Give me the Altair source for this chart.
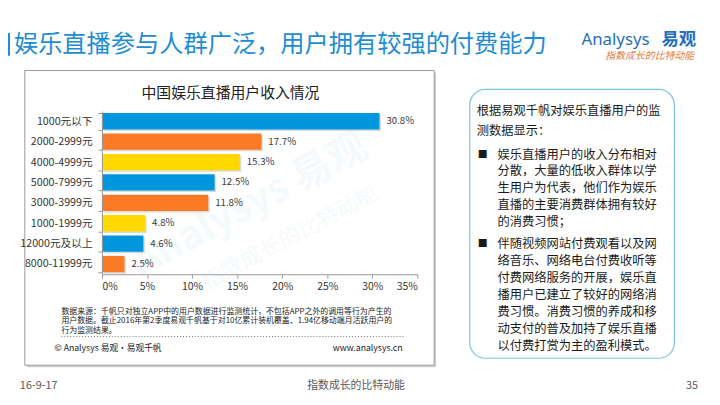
import altair as alt
import pandas as pd

# ---------------- data ----------------
categories = ["1000元以下", "2000-2999元", "4000-4999元", "5000-7999元",
              "3000-3999元", "1000-1999元", "12000元及以上", "8000-11999元"]
values = [30.8, 17.7, 15.3, 12.5, 11.8, 4.8, 4.6, 2.5]
groups = ["蓝", "橙", "黄", "蓝", "橙", "黄", "蓝", "橙"]
x_ticks = [0, 5, 10, 15, 20, 25, 30, 35]

title_text = "娱乐直播参与人群广泛，用户拥有较强的付费能力"
chart_title = "中国娱乐直播用户收入情况"
source_lines = [
    "数据来源：千帆只对独立APP中的用户数据进行监测统计，不包括APP之外的调用等行为产生的",
    "用户数据。截止2016年第2季度易观千帆基于对10亿累计装机覆盖、1.94亿移动端月活跃用户的",
    "行为监测结果。",
]
intro_lines = ["根据易观千帆对娱乐直播用户的监", "测数据显示："]
bullet1 = ["娱乐直播用户的收入分布相对", "分散，大量的低收入群体以学", "生用户为代表，他们作为娱乐",
           "直播的主要消费群体拥有较好", "的消费习惯；"]
bullet2 = ["伴随视频网站付费观看以及网", "络音乐、网络电台付费收听等", "付费网络服务的开展，娱乐直",
           "播用户已建立了较好的网络消", "费习惯。消费习惯的养成和移", "动支付的普及加持了娱乐直播",
           "以付费打赏为主的盈利模式。"]

df = pd.DataFrame({"cat": categories, "val": values, "grp": groups})
df["label"] = [f"{v:.1f}%" for v in values]

FONT = "Noto Sans CJK SC"
W, H = 319, 165


def one():
    return alt.Data(values=[{"t": ""}])


def txt(s, x, y, size, color="#222222", align="left", baseline="middle",
        weight="normal", angle=0, opacity=1.0, style="normal", font=FONT):
    return alt.Chart(alt.Data(values=[{"t": s}])).mark_text(
        align=align, baseline=baseline, fontSize=size, color=color, font=font,
        fontWeight=weight, angle=angle, opacity=opacity, fontStyle=style
    ).encode(x=alt.value(x), y=alt.value(y), text="t:N")


def box(x, x2, y, y2, **kw):
    return alt.Chart(one()).mark_rect(**kw).encode(
        x=alt.value(x), x2=alt.value(x2), y=alt.value(y), y2=alt.value(y2))


layers = []

# chart frame with shadow
layers.append(box(-76, 338, -39, 259, fill="#cfcfcf"))
layers.append(box(-78, 336, -41, 257, fill="white", stroke="#9a9a9a", strokeWidth=1))

# watermark
layers.append(txt("Analysys 易观", 150, 95, 40, color="#1E8CD3", align="center",
                  weight="bold", angle=332, opacity=0.045))
layers.append(txt("指数成长的比特动能", 190, 128, 22, color="#1E8CD3", align="center",
                  angle=332, opacity=0.045))

# bars
y_enc = alt.Y("cat:N", sort=categories, title=None,
              scale=alt.Scale(paddingInner=0.2, paddingOuter=0.1),
              axis=alt.Axis(labelFont=FONT, labelFontSize=10.8, labelColor="#333333",
                            domainColor="#9a9a9a", tickColor="#9a9a9a", tickSize=4,
                            tickBand="extent", labelPadding=6, zindex=2))
x_enc = alt.X("val:Q", title=None, scale=alt.Scale(domain=[0, 35], nice=False),
              axis=alt.Axis(values=x_ticks, labelExpr="datum.value + '%'",
                            labelFont=FONT, labelFontSize=10.5, labelColor="#333333",
                            domainColor="#9a9a9a", tickColor="#9a9a9a", tickSize=4,
                            grid=False, labelPadding=3, zindex=2))

base = alt.Chart(df)
shadow = base.mark_bar(color="#bdbdbd", opacity=0.55, xOffset=1.5, yOffset=1.5).encode(
    y=y_enc, x=x_enc)
bars = base.mark_bar().encode(
    y=y_enc, x=x_enc,
    color=alt.Color("grp:N", legend=None,
                    scale=alt.Scale(domain=["蓝", "橙", "黄"],
                                    range=["#0096DE", "#FA7A25", "#FFD800"])))
labels = base.mark_text(align="left", baseline="middle", dx=7, fontSize=9.8,
                        color="#3a3a3a", font=FONT).encode(y=y_enc, x=x_enc, text="label:N")
layers += [shadow, bars, labels]

# slide title
layers.append(box(-96, -93, -79, -56, fill="#1E8CD3"))
layers.append(txt(title_text, -89, -67, 24.5, color="#1E8CD3"))

# logo
layers.append(txt("Analysys", 485, -72, 17, color="#1F6FC0", font="Noto Sans"))
layers.append(txt("易观", 566, -72, 17.5, color="#1F6FC0", weight="bold"))
layers.append(txt("指数成长的比特动能", 554, -56, 10, color="#E07B39", align="center",
                  style="italic"))

# chart title
layers.append(txt(chart_title, 130, -18, 15, color="#222222", align="center"))

# source
for i, s in enumerate(source_lines):
    layers.append(txt(s, -41, 203 + i * 9.7, 8, color="#222222"))
layers.append(alt.Chart(one()).mark_rule(color="#777777", strokeDash=[1, 2]).encode(
    x=alt.value(-41), x2=alt.value(305), y=alt.value(228)))
layers.append(txt("© Analysys 易观·易观千帆", -48, 240, 8.8, color="#222222"))
layers.append(txt("www.analysys.cn", 304, 240, 8.8, color="#222222", align="right"))

# right box
layers.append(box(372, 579, -22, 250, fill="white", stroke="#7CC6E0", strokeWidth=1.2,
                  cornerRadius=16))
for i, s in enumerate(intro_lines):
    layers.append(txt(s, 379, 0 + i * 20, 12.4, color="#1a1a1a"))
layers.append(txt("■", 380, 44, 10, color="#1a1a1a"))
for i, s in enumerate(bullet1):
    layers.append(txt(s, 400, 44 + i * 17.1, 12.4, color="#1a1a1a"))
layers.append(txt("■", 380, 134, 10, color="#1a1a1a"))
for i, s in enumerate(bullet2):
    layers.append(txt(s, 400, 134 + i * 17.3, 12.4, color="#1a1a1a"))

# footer
layers.append(txt("16-9-17", -83, 278, 11, color="#595959"))
layers.append(txt("指数成长的比特动能", 257, 278, 11, color="#595959", align="center"))
layers.append(txt("35", 603, 278, 11, color="#595959", align="right"))

chart = alt.layer(*layers).properties(
    width=W, height=H,
    autosize=alt.AutoSizeParams(type="none"),
    padding={"left": 95, "top": 102, "right": 298, "bottom": 130},
    background="white",
).configure_view(stroke=None)

chart.save("out.html", embed_options={"renderer": "svg", "actions": False})
